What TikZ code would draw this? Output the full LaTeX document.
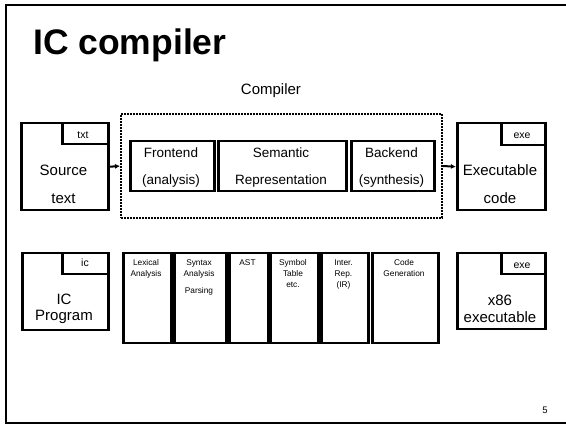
\documentclass[tikz,border=0pt]{standalone}
\usepackage{fontspec}
\setmainfont{Liberation Sans}
\usetikzlibrary{arrows.meta}
\begin{document}
\begin{tikzpicture}[x=1pt,y=-1pt,
  frame/.style={line width=2.5pt},
  box/.style={draw, line width=2.5pt, inner sep=0pt, anchor=north west},
  tabbox/.style={draw, line width=2.5pt, inner sep=0pt, anchor=north east},
  dotbox/.style={draw, line width=2pt, dash pattern=on 1.6pt off 1.4pt, inner sep=0pt, anchor=north west},
  big/.style={inner sep=0pt, anchor=base, font=\fontsize{15}{18}\selectfont},
  mid/.style={inner sep=0pt, anchor=base, font=\fontsize{13.5}{16}\selectfont},
  small/.style={inner sep=0pt, anchor=base, font=\fontsize{8.3}{10}\selectfont},
  tabtxt/.style={inner sep=0pt, anchor=base, font=\fontsize{10.5}{12}\selectfont},
  arr/.style={line width=2pt, -{Latex[length=5pt,width=5pt]}}]
\useasboundingbox (0,0) rectangle (566,425);
% slide frame
\draw[frame] (566,5) -- (6,5) -- (6,423) -- (566,423);
% title
\node[inner sep=0pt, anchor=base west, font=\fontsize{35.5}{40}\bfseries\selectfont] (title) at (33,55) {IC compiler};
\node[big] (complbl) at (271,95) {Compiler};
% top row
\node[dotbox, minimum width=321pt, minimum height=104pt] (comp) at (120,113) {};
\node[box, minimum width=87pt, minimum height=87pt] (src) at (20,122) {};
\node[tabbox, minimum width=46pt, minimum height=21pt] (srctab) at (src.north east) {};
\node[tabtxt] (srctabt) at (83,138.5) {txt};
\node[big] (src1) at (63.5,176) {Source};
\node[big] (src2) at (63.5,203.5) {text};
\node[box, minimum width=84pt, minimum height=50pt] (fe) at (129,140) {};
\node[mid] (fe1) at (171,157.5) {Frontend};
\node[mid] (fe2) at (171,184.5) {(analysis)};
\node[box, minimum width=128pt, minimum height=50pt] (sem) at (217,140) {};
\node[mid] (sem1) at (281,157.5) {Semantic};
\node[mid] (sem2) at (281,184.5) {Representation};
\node[box, minimum width=83pt, minimum height=50pt] (be) at (350,140) {};
\node[mid] (be1) at (391.5,157.5) {Backend};
\node[mid] (be2) at (391.5,184.5) {(synthesis)};
\node[box, minimum width=88pt, minimum height=87pt] (exe) at (456,122) {};
\node[tabbox, minimum width=44pt, minimum height=22pt] (exetab) at (exe.north east) {};
\node[tabtxt] (exetabt) at (522,139) {exe};
\node[big] (exe1) at (500,176) {Executable};
\node[big] (exe2) at (500,203.5) {code};
\draw[arr] (src.east) -- (comp.west);
\draw[arr] (comp.east) -- (exe.west);
% bottom row
\node[box, minimum width=86pt, minimum height=77pt] (icp) at (21,252) {};
\node[tabbox, minimum width=46pt, minimum height=21pt] (ictab) at (icp.north east) {};
\node[tabtxt] (ictabt) at (85,267) {ic};
\node[big] (icp1) at (64,305) {IC};
\node[big] (icp2) at (64,320.5) {Program};
\node[box, minimum width=48pt, minimum height=90pt] (lex) at (122,252) {};
\node[small] (lex1) at (146,266) {Lexical};
\node[small] (lex2) at (146,276.7) {Analysis};
\node[box, minimum width=52pt, minimum height=90pt] (syn) at (173,252) {};
\node[small] (syn1) at (199,266) {Syntax};
\node[small] (syn2) at (199,276.7) {Analysis};
\node[small] (syn3) at (199,294) {Parsing};
\node[box, minimum width=39pt, minimum height=90pt] (ast) at (228,252) {};
\node[small] (ast1) at (247.5,266) {AST};
\node[box, minimum width=48pt, minimum height=90pt] (sym) at (269,252) {};
\node[small] (sym1) at (293,266) {Symbol};
\node[small] (sym2) at (293,276.7) {Table};
\node[small] (sym3) at (293,287.4) {etc.};
\node[box, minimum width=47pt, minimum height=90pt] (ir) at (320,252) {};
\node[small] (ir1) at (343.5,266) {Inter.};
\node[small] (ir2) at (343.5,276.7) {Rep.};
\node[small] (ir3) at (343.5,287.4) {(IR)};
\node[box, minimum width=66pt, minimum height=90pt] (cg) at (371,252) {};
\node[small] (cg1) at (404,266) {Code};
\node[small] (cg2) at (404,276.7) {Generation};
\node[box, minimum width=88pt, minimum height=76pt] (x86) at (456,252) {};
\node[tabbox, minimum width=44pt, minimum height=21pt] (x86tab) at (x86.north east) {};
\node[tabtxt] (x86tabt) at (522,269) {exe};
\node[big] (x861) at (500,306) {x86};
\node[big] (x862) at (500,322.5) {executable};
% page number
\node[inner sep=0pt, anchor=base, font=\fontsize{9.5}{11}\selectfont] (pnum) at (545,413.3) {5};
\end{tikzpicture}
\end{document}
